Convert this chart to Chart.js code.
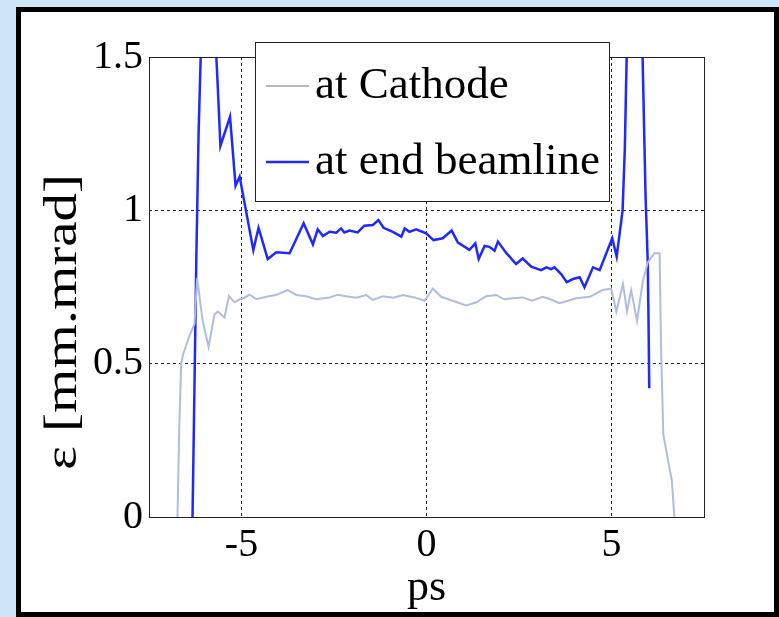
<!DOCTYPE html>
<html>
<head>
<meta charset="utf-8">
<script src="https://cdn.jsdelivr.net/npm/chart.js@4"></script>
<style>
  html, body { margin: 0; padding: 0; }
  body { width: 779px; height: 617px; background: #cfe6f8; position: relative; overflow: hidden; }
  #frame { position: absolute; left: 16px; top: 7px; width: 763px; height: 610px; box-sizing: border-box; border: 5px solid #000; background: #fff; }
  #plotCanvas { position: absolute; left: 0; top: 0; }
</style>
</head>
<body>
<div id="frame"></div>
<canvas id="plotCanvas" width="779" height="617"></canvas>
<script>
// emittance along the bunch
const cathodeX = [-6.73, -6.68, -6.63, -6.58, -6.41, -6.27, -6.20, -6.05, -5.89, -5.73, -5.64, -5.46, -5.34, -5.19, -5.05, -4.92, -4.78, -4.60, -4.33, -4.05, -3.75, -3.52, -3.25, -2.98, -2.62, -2.40, -2.17, -1.90, -1.63, -1.45, -1.18, -0.90, -0.64, -0.32, -0.05, 0.17, 0.40, 0.71, 1.07, 1.35, 1.61, 1.88, 2.10, 2.33, 2.60, 2.85, 3.14, 3.35, 3.59, 3.82, 4.05, 4.41, 4.76, 4.99, 5.13, 5.31, 5.42, 5.53, 5.69, 5.85, 5.98, 6.16, 6.30, 6.34, 6.40, 6.55, 6.63, 6.70];
const cathodeY = [0, 0.30, 0.50, 0.53, 0.59, 0.63, 0.78, 0.64, 0.555, 0.66, 0.67, 0.65, 0.72, 0.70, 0.71, 0.715, 0.725, 0.71, 0.718, 0.725, 0.74, 0.724, 0.72, 0.71, 0.716, 0.725, 0.72, 0.715, 0.724, 0.708, 0.72, 0.715, 0.724, 0.716, 0.705, 0.745, 0.718, 0.705, 0.69, 0.70, 0.72, 0.724, 0.71, 0.713, 0.716, 0.705, 0.718, 0.71, 0.697, 0.705, 0.713, 0.718, 0.74, 0.745, 0.67, 0.76, 0.67, 0.74, 0.64, 0.77, 0.83, 0.86, 0.86, 0.55, 0.27, 0.17, 0.12, 0];

const beamX = [-6.33, -6.28, -6.22, -6.16, -6.08, -5.95, -5.80, -5.68, -5.64, -5.57, -5.31, -5.16, -5.05, -4.68, -4.54, -4.29, -4.06, -3.70, -3.32, -3.07, -2.94, -2.80, -2.62, -2.44, -2.31, -2.22, -2.08, -1.86, -1.68, -1.45, -1.30, -1.16, -0.91, -0.68, -0.59, -0.46, -0.28, -0.01, 0.19, 0.44, 0.68, 0.85, 1.16, 1.32, 1.41, 1.57, 1.70, 1.84, 1.93, 2.15, 2.42, 2.60, 2.83, 3.10, 3.24, 3.37, 3.46, 3.64, 3.79, 3.96, 4.14, 4.27, 4.50, 4.68, 5.02, 5.14, 5.30, 5.36, 5.41, 5.50, 5.65, 5.78, 5.84, 5.92, 5.98, 6.00, 6.02];
const beamY = [-0.05, 0.35, 0.85, 1.25, 1.60, 2.40, 2.20, 1.50, 1.40, 1.21, 1.305, 1.08, 1.11, 0.87, 0.943, 0.841, 0.863, 0.860, 0.958, 0.889, 0.938, 0.916, 0.930, 0.927, 0.941, 0.928, 0.934, 0.928, 0.950, 0.952, 0.968, 0.943, 0.930, 0.914, 0.941, 0.930, 0.938, 0.925, 0.903, 0.909, 0.934, 0.895, 0.871, 0.892, 0.841, 0.884, 0.881, 0.868, 0.898, 0.862, 0.825, 0.843, 0.816, 0.805, 0.814, 0.808, 0.814, 0.792, 0.766, 0.776, 0.782, 0.749, 0.814, 0.805, 0.909, 0.849, 1.00, 1.20, 1.50, 2.00, 2.50, 2.00, 1.50, 1.05, 0.83, 0.65, 0.42];

const seriesNames = ["at Cathode", "at end beamline"];
const xTicks = [-5, 0, 5];
const yTicks = [0, 0.5, 1, 1.5];
const yTickLabels = ["0", "0.5", "1", "1.5"];
const xTitle = "ps";
const yTitle = "ε [mm.mrad]";

const toPoints = (xs, ys) => xs.map((x, i) => ({x: x, y: ys[i]}));
const serif = "'Liberation Serif', 'Times New Roman', serif";

// solid box round the plot area
const plotFrame = {
    id: "plotFrame",
    afterDatasetsDraw(chart) {
        const {ctx, chartArea: a} = chart;
        ctx.save();
        ctx.strokeStyle = "#222";
        ctx.lineWidth = 1;
        ctx.strokeRect(Math.round(a.left) + 0.5, Math.round(a.top) + 0.5, Math.round(a.right - a.left), Math.round(a.bottom - a.top));
        ctx.restore();
    }
};

// y label sits a bit low in the original and looks squeezed, so draw it by hand
const yLabel = {
    id: "yLabel",
    afterDraw(chart) {
        const ctx = chart.ctx;
        ctx.save();
        ctx.translate(64, 322);
        ctx.rotate(-Math.PI / 2);
        ctx.scale(1, 0.8);
        ctx.font = "57px " + serif;
        ctx.fillStyle = "#000";
        ctx.textAlign = "center";
        ctx.textBaseline = "middle";
        ctx.fillText(yTitle, 0, 0);
        ctx.restore();
    }
};

// boxed legend like the matlab one
const boxLegend = {
    id: "boxLegend",
    afterDraw(chart) {
        const ctx = chart.ctx;
        const box = {left: 255.5, top: 42.5, width: 354, height: 159};
        const rows = [86, 162];
        ctx.save();
        ctx.fillStyle = "#fff";
        ctx.fillRect(box.left, box.top, box.width, box.height);
        ctx.strokeStyle = "#222";
        ctx.lineWidth = 1;
        ctx.strokeRect(box.left, box.top, box.width, box.height);
        ctx.font = "45px " + serif;
        ctx.textBaseline = "middle";
        chart.data.datasets.forEach((ds, i) => {
            const y = rows[i];
            ctx.strokeStyle = ds.legendColor || ds.borderColor;
            ctx.lineWidth = ds.borderWidth;
            ctx.beginPath();
            ctx.moveTo(266, y);
            ctx.lineTo(309, y);
            ctx.stroke();
            ctx.fillStyle = "#000";
            ctx.fillText(ds.label, 315, y);
        });
        ctx.restore();
    }
};

const edgeClear = (ctx, edges) => edges.includes(ctx.tick.value) ? "rgba(0,0,0,0)" : "#222";

const plotChart = new Chart(document.getElementById("plotCanvas"), {
    type: "line",
    data: {
        datasets: [{
            label: seriesNames[0],
            data: toPoints(cathodeX, cathodeY),
            borderColor: "rgb(178, 188, 224)",
            legendColor: "rgb(180, 184, 196)",
            borderWidth: 2,
            pointRadius: 0,
            tension: 0
        }, {
            label: seriesNames[1],
            data: toPoints(beamX, beamY),
            borderColor: "rgb(30, 40, 255)",
            borderWidth: 2.5,
            pointRadius: 0,
            tension: 0
        }]
    },
    options: {
        responsive: false,
        animation: false,
        events: [],
        layout: {
            padding: {left: 0, right: 75, top: 57, bottom: 0}
        },
        plugins: {
            legend: {display: false},
            tooltip: {enabled: false}
        },
        scales: {
            x: {
                type: "linear",
                min: -7.5,
                max: 7.5,
                afterBuildTicks: (scale) => { scale.ticks = xTicks.map(v => ({value: v})); },
                afterFit: (scale) => { scale.height = 100; },
                ticks: {
                    color: "#000",
                    padding: 4,
                    font: {family: serif, size: 40}
                },
                grid: {
                    drawTicks: false,
                    lineWidth: 1,
                    color: (ctx) => edgeClear(ctx, [-7.5, 7.5])
                },
                border: {display: false, dash: [3, 3]},
                title: {
                    display: true,
                    text: xTitle,
                    color: "#000",
                    font: {family: serif, size: 44},
                    padding: {top: 0, bottom: 2}
                }
            },
            y: {
                type: "linear",
                min: 0,
                max: 1.5,
                afterBuildTicks: (scale) => { scale.ticks = yTicks.map(v => ({value: v})); },
                afterFit: (scale) => { scale.width = 149; },
                ticks: {
                    color: "#000",
                    padding: 6,
                    font: {family: serif, size: 40},
                    callback: (v) => yTickLabels[yTicks.indexOf(v)]
                },
                grid: {
                    drawTicks: false,
                    lineWidth: 1,
                    color: (ctx) => edgeClear(ctx, [0, 1.5])
                },
                border: {display: false, dash: [3, 3]},
                title: {display: false}
            }
        }
    },
    plugins: [plotFrame, yLabel, boxLegend]
});
</script>
</body>
</html>
